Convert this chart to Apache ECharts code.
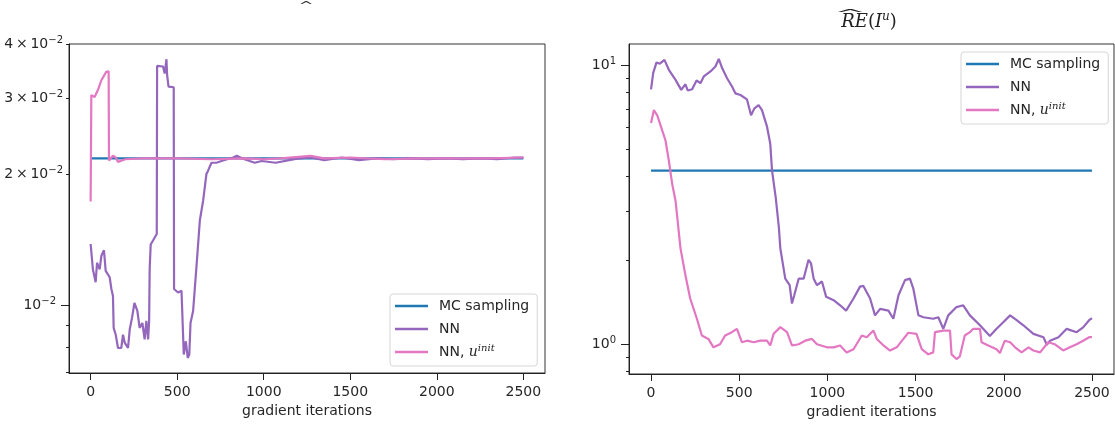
<!DOCTYPE html>
<html>
<head>
<meta charset="utf-8">
<script src="https://cdn.jsdelivr.net/npm/echarts@6/dist/echarts.min.js"></script>
<style>
html,body{margin:0;padding:0;background:#fff;}
#chart{width:1115px;height:425px;}
</style>
</head>
<body>
<div id="chart"></div>
<script>
// ---------- data ----------
const seriesNames = ['MC sampling', 'NN', 'NN, u^init'];
const xTicks = [0, 500, 1000, 1500, 2000, 2500];

// left panel (estimate of I^u)
const leftMCx = [0, 2500];
const leftMCy = [0.0218, 0.0218];
const leftNNx = [0,13,29,37,52,62,77,87,110,120,129,133,145,158,177,187,197,216,226,235,239,253,270,283,299,312,322,332,338,341,347,353,382,384,418,428,438,442,450,480,482,505,525,534,538,550,561,570,577,592,611,631,650,669,678,698,727,765,823,845,880,948,988,1069,1185,1270,1350,1450,1550,1650,1750,1850,1950,2050,2150,2250,2350,2450,2500];
const leftNNy = [0.01384,0.0121,0.0113,0.01253,0.0121,0.0130,0.01339,0.0120,0.0116,0.0109,0.0105,0.00887,0.00855,0.00797,0.00797,0.00855,0.0082,0.00797,0.0088,0.0088,0.00935,0.01012,0.0097,0.00887,0.0091,0.00834,0.0092,0.00834,0.0092,0.0121,0.0138,0.0139,0.0146,0.0356,0.0355,0.0342,0.0369,0.0339,0.0319,0.0318,0.0109,0.0107,0.0108,0.0108,0.0077,0.00826,0.00756,0.0077,0.0091,0.0097,0.01221,0.0157,0.01742,0.02008,0.0204,0.0213,0.0213,0.02155,0.0219,0.0221,0.02175,0.0213,0.0215,0.0213,0.02175,0.0219,0.0216,0.0219,0.0216,0.0218,0.0217,0.0218,0.0217,0.0218,0.0217,0.0218,0.0217,0.0219,0.0219];
const leftPinkx = [0,4,23,42,62,90,104,106,129,145,158,200,300,500,700,900,1000,1100,1270,1350,1500,1700,1900,2100,2300,2500];
const leftPinky = [0.01734,0.0305,0.0302,0.03133,0.033,0.0345,0.0346,0.02155,0.0221,0.0219,0.0214,0.0217,0.0218,0.0218,0.0217,0.0218,0.0217,0.0218,0.0221,0.0218,0.0219,0.0217,0.0218,0.0218,0.0218,0.0219];

// right panel (relative error)
const rightMCx = [0, 2500];
const rightMCy = [4.2, 4.2];
const rightNNx = [0,12,31,50,76,101,139,171,195,208,233,258,280,299,337,365,384,403,431,460,478,507,544,567,586,610,629,658,676,686,707,725,733,761,786,799,812,837,865,893,907,922,941,969,993,1035,1072,1106,1148,1185,1204,1242,1270,1299,1346,1374,1403,1440,1468,1487,1516,1544,1600,1629,1657,1685,1732,1770,1808,1865,1921,1959,1997,2036,2073,2111,2168,2225,2244,2262,2310,2357,2413,2450,2484,2500];
const rightNNy = [8.23,9.41,10.28,10.17,10.5,9.67,8.9,8.19,8.58,8.15,8.23,8.85,8.66,9.15,9.54,9.94,10.58,9.81,9.02,8.41,7.96,7.85,7.57,6.64,7.03,7.22,6.93,6.03,5.25,4.2,3.36,2.62,2.21,1.72,1.63,1.40,1.50,1.72,1.72,2.01,1.95,1.72,1.63,1.68,1.48,1.44,1.38,1.32,1.46,1.61,1.62,1.46,1.27,1.34,1.32,1.235,1.50,1.70,1.72,1.585,1.27,1.25,1.235,1.25,1.136,1.27,1.36,1.38,1.27,1.17,1.07,1.136,1.20,1.27,1.22,1.17,1.09,1.06,0.995,1.03,1.06,1.136,1.105,1.15,1.22,1.24];
const rightPinkx = [0,16,35,54,82,101,120,139,167,195,222,260,288,325,354,391,420,458,487,515,544,582,620,657,676,695,733,771,799,837,874,912,941,997,1035,1072,1109,1148,1195,1223,1261,1280,1318,1355,1393,1431,1459,1505,1535,1572,1600,1610,1657,1695,1704,1732,1751,1779,1808,1827,1865,1874,1912,1959,1978,2006,2036,2064,2101,2140,2168,2206,2252,2290,2337,2375,2413,2450,2484,2500];
const rightPinky = [6.23,6.93,6.64,6.11,5.39,4.56,3.76,3.27,2.21,1.77,1.46,1.235,1.075,1.045,0.975,1.0,1.075,1.105,1.136,1.017,1.03,1.017,1.03,1.03,0.99,1.09,1.152,1.105,0.99,1.0,1.03,1.045,1.0,0.975,0.975,0.99,0.935,0.96,1.075,1.06,1.12,1.045,0.99,0.949,0.975,1.045,1.1,1.09,0.96,0.92,0.935,1.105,1.12,1.12,0.92,0.885,0.905,1.075,1.105,1.136,1.136,1.017,0.99,0.96,0.93,1.03,1.017,0.975,0.935,0.975,0.95,0.935,1.017,1.0,0.95,0.975,1.0,1.03,1.06,1.06];

const leftMajorTicks = [0.01];
const leftMinorTicks = [0.007, 0.008, 0.009, 0.02, 0.03, 0.04];
const leftMinorLabels = [0.02, 0.03, 0.04];
const rightMajorTicks = [1, 10];
const rightMinorTicks = [0.8, 0.9, 2, 3, 4, 5, 6, 7, 8, 9];

// ---------- styling ----------
const FONT = 'DejaVu Sans';
const TXT = '#262626';
const colors = ['#1f77b4', '#9467bd', '#e377c2'];

function pairs(xs, ys) { return xs.map((x, i) => [x, ys[i]]); }

function tickLabel(v) {
  const e = Math.floor(Math.log10(v) + 1e-9);
  const m = Math.round(v / Math.pow(10, e));
  const exp = String(e).replace('-', '\u2212');
  if (m === 1) return '{b|10}{s|' + exp + '}';
  return '{b|' + m + '\u2009\u00d7\u200910}{s|' + exp + '}';
}
const labelRich = {
  b: { fontFamily: FONT, fontSize: 14, color: TXT, lineHeight: 18 },
  s: { fontFamily: FONT, fontSize: 10, color: TXT, lineHeight: 11, verticalAlign: 'top' }
};

function xAxisCfg(gi) {
  return {
    gridIndex: gi, type: 'value', min: -125, max: 2625,
    axisLine: { show: true, onZero: false, lineStyle: { color: '#222', width: 1 } },
    axisTick: { show: true, length: 7, customValues: xTicks, lineStyle: { color: '#222' } },
    axisLabel: { customValues: xTicks, margin: 12, fontFamily: FONT, fontSize: 14, color: TXT,
      formatter: function (v) { return String(Math.round(v)); } },
    splitLine: { show: false },
    name: 'gradient iterations', nameLocation: 'middle', nameGap: 31,
    nameTextStyle: { fontFamily: FONT, fontSize: 14, color: TXT }
  };
}
function yAxisMajor(gi, min, max, ticks) {
  return {
    gridIndex: gi, type: 'log', logBase: 10, min: min, max: max, position: 'left', offset: 0,
    axisLine: { show: true, onZero: false, lineStyle: { color: '#222', width: 1 } },
    axisTick: { show: true, length: 8, customValues: ticks, lineStyle: { color: '#222' } },
    axisLabel: { customValues: ticks, margin: 13, formatter: tickLabel, rich: labelRich },
    splitLine: { show: false }, minorTick: { show: false }, minorSplitLine: { show: false }
  };
}
function yAxisMinor(gi, min, max, ticks, labels) {
  return {
    gridIndex: gi, type: 'log', logBase: 10, min: min, max: max, position: 'left', offset: 0,
    axisLine: { show: false, onZero: false },
    axisTick: { show: true, length: 3, customValues: ticks, lineStyle: { color: '#222' } },
    axisLabel: labels.length ? { customValues: labels, margin: 6, formatter: tickLabel, rich: labelRich } : { show: false },
    splitLine: { show: false }
  };
}

function legendCfg(left, top) {
  return {
    data: seriesNames, orient: 'vertical', left: left, top: top,
    icon: 'rect', itemWidth: 33, itemHeight: 2.5, itemGap: 5,
    backgroundColor: 'rgba(255,255,255,0.8)', borderColor: '#d6d6d6', borderWidth: 1, borderRadius: 3,
    padding: [3, 8, 5, 5],
    selectedMode: false,
    textStyle: {
      fontFamily: FONT, fontSize: 14, color: TXT, lineHeight: 18, padding: [0, 0, 0, 6],
      rich: {
        n: { fontFamily: FONT, fontSize: 14, color: TXT, lineHeight: 18 },
        u: { fontFamily: 'DejaVu Serif', fontStyle: 'italic', fontSize: 14, color: TXT, lineHeight: 18 },
        s: { fontFamily: 'DejaVu Serif', fontStyle: 'italic', fontSize: 10, color: TXT, lineHeight: 12, verticalAlign: 'top' }
      }
    },
    formatter: function (name) {
      if (name === 'NN, u^init') return '{n|NN, }{u|u}{s|init}';
      return name;
    }
  };
}

function lineSeries(name, xi, yi, data, color, z) {
  return {
    name: name, type: 'line', xAxisIndex: xi, yAxisIndex: yi, data: data,
    showSymbol: false, symbol: 'none', smooth: false, z: z,
    lineStyle: { color: color, width: 2.2 }, itemStyle: { color: color },
    emphasis: { disabled: true }
  };
}

const option = {
  animation: false,
  backgroundColor: '#fff',
  grid: [
    { left: 69, top: 44, width: 476, height: 329, show: true, borderColor: '#333', borderWidth: 1, backgroundColor: 'transparent' },
    { left: 629, top: 44, width: 485, height: 330, show: true, borderColor: '#333', borderWidth: 1, backgroundColor: 'transparent' }
  ],
  xAxis: [xAxisCfg(0), xAxisCfg(1)],
  yAxis: [
    yAxisMajor(0, 0.00698, 0.04, leftMajorTicks),
    yAxisMinor(0, 0.00698, 0.04, leftMinorTicks, leftMinorLabels),
    yAxisMajor(1, 0.782, 11.97, rightMajorTicks),
    yAxisMinor(1, 0.782, 11.97, rightMinorTicks, [])
  ],
  legend: [legendCfg(390, 294), legendCfg(961, 52)],
  graphic: [
    { type: 'text', x: 306, y: 6, scaleX: 1.3, scaleY: 0.7,
      style: { text: '^', fontFamily: FONT, fontSize: 14, fill: '#333', textAlign: 'center', textVerticalAlign: 'middle' } },
    { type: 'text', x: 850, y: 15, scaleX: 2.4, scaleY: 0.6,
      style: { text: '^', fontFamily: FONT, fontSize: 16, fill: '#222', textAlign: 'center', textVerticalAlign: 'middle' } },
    { type: 'text', x: 869, y: 22,
      style: {
        text: '{i|RE}{p|(}{i|I}{s|u}{p|)}', textAlign: 'center', textVerticalAlign: 'middle',
        rich: {
          i: { fontFamily: 'DejaVu Serif', fontStyle: 'italic', fontSize: 18, fill: '#222', lineHeight: 22 },
          p: { fontFamily: 'DejaVu Serif', fontSize: 18, fill: '#222', lineHeight: 22 },
          s: { fontFamily: 'DejaVu Serif', fontStyle: 'italic', fontSize: 12, fill: '#222', lineHeight: 14, verticalAlign: 'top' }
        }
      } }
  ],
  series: [
    lineSeries(seriesNames[0], 0, 0, pairs(leftMCx, leftMCy), colors[0], 2),
    lineSeries(seriesNames[1], 0, 0, pairs(leftNNx, leftNNy), colors[1], 3),
    lineSeries(seriesNames[2], 0, 0, pairs(leftPinkx, leftPinky), colors[2], 4),
    lineSeries(seriesNames[0], 1, 2, pairs(rightMCx, rightMCy), colors[0], 2),
    lineSeries(seriesNames[1], 1, 2, pairs(rightNNx, rightNNy), colors[1], 3),
    lineSeries(seriesNames[2], 1, 2, pairs(rightPinkx, rightPinky), colors[2], 4)
  ]
};

const chart = echarts.init(document.getElementById('chart'), null, { renderer: 'canvas' });
chart.setOption(option);
</script>
</body>
</html>
